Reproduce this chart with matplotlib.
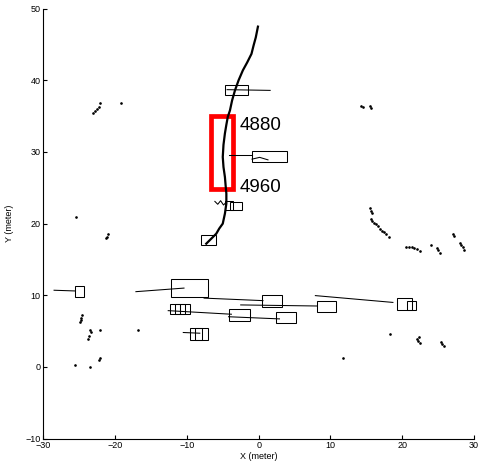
import matplotlib.pyplot as plt
from matplotlib.patches import Rectangle

plt.rcParams["font.family"] = ["Liberation Sans", "DejaVu Sans"]

# main (thick) trajectory of the tracked vehicle
traj_x = [-0.1, -0.2, -0.4, -0.7, -1.0, -1.6, -2.2, -2.8, -3.3, -3.7, -4.0, -4.3,
          -4.5, -4.7, -4.9, -5.0, -4.9, -4.7, -4.6, -4.5, -4.5, -4.7, -5.0, -5.5, -5.9, -6.6, -7.3]
traj_y = [47.5, 47.0, 46.0, 44.9, 43.7, 42.5, 41.4, 40.0, 38.6, 37.2, 35.8, 34.9,
          33.8, 32.6, 31.0, 29.3, 27.9, 26.5, 25.3, 24.2, 22.8, 21.4, 20.0, 19.3, 18.6, 17.9, 17.2]

# highlighted segment and frame labels
hl_x = [-6.6, -3.6]
hl_y = [24.9, 35.0]
frame_labels = ["4880", "4960"]
frame_label_y = [33.7, 25.1]

# other tracks (thin lines)
tracks = [
    ([-4.4, 1.6], [38.7, 38.6]),
    ([-4.1, -0.9], [29.6, 29.6]),
    ([-0.93, 0.14, 1.3], [29.0, 29.25, 28.9]),
    ([-6.1, -5.7, -5.3, -4.9, -4.5], [23.1, 22.7, 23.2, 22.6, 23.0]),
    ([-28.5, -25.6], [10.7, 10.6]),
    ([-17.1, -10.4], [10.5, 11.0]),
    ([-7.6, 0.6], [9.6, 9.25]),
    ([-12.6, -3.8], [7.85, 7.35]),
    ([-4.2, 2.9], [7.0, 6.7]),
    ([-2.5, 8.1], [8.65, 8.5]),
    ([7.9, 18.7], [9.95, 9.0]),
    ([-10.5, -8.2], [4.8, 4.7]),
]

# tracked object bounding boxes (x0, x1, y0, y1)
box_x0 = [-4.7, -0.9, -4.7, -4.0, -8.0, -25.6, -12.2, 0.5, -12.3, -11.7, -11.0,
          -4.2, 2.4, 8.1, 19.3, 20.6, -9.6, -8.8]
box_x1 = [-1.5, 3.9, -3.6, -2.3, -6.0, -24.3, -7.1, 3.2, -11.0, -10.3, -9.6,
          -1.25, 5.25, 10.8, 21.3, 21.9, -7.9, -7.1]
box_y0 = [38.0, 28.6, 21.9, 21.9, 17.0, 9.7, 9.8, 8.4, 7.4, 7.4, 7.4,
          6.4, 6.1, 7.7, 8.0, 8.0, 3.8, 3.8]
box_y1 = [39.4, 30.1, 23.2, 23.0, 18.4, 11.3, 12.2, 10.0, 8.8, 8.8, 8.8,
          8.05, 7.6, 9.2, 9.6, 9.2, 5.4, 5.4]

# static laser returns
dot_x = [-22.1, -22.2, -22.5, -22.8, -23.1, -19.2,
         -25.4, -21.0, -21.1, -21.3,
         14.3, 14.5, 15.5, 15.7,
         15.5, 15.7, 15.8,
         15.6, 15.8, 16.0, 16.3, 16.6, 16.9, 17.2, 17.5, 17.8, 18.2,
         20.5, 20.9, 21.3, 21.7, 22.1, 22.5,
         24.0, 24.8, 25.0, 25.3,
         27.1, 27.2, 28.1, 28.2, 28.4, 28.6,
         -24.6, -24.7, -24.8, -24.9,
         -23.5, -23.4, -23.6, -23.8, -22.1, -16.8,
         -22.1, -22.3, -25.6, -23.5,
         18.3, 22.3, 22.1, 22.2, 22.5, 11.8, 25.4, 25.6, 25.8]
dot_y = [36.9, 36.3, 36.0, 35.7, 35.4, 36.8,
         20.9, 18.5, 18.2, 18.0,
         36.4, 36.3, 36.4, 36.2,
         22.2, 21.8, 21.5,
         20.7, 20.4, 20.1, 19.9, 19.6, 19.3, 19.0, 18.8, 18.5, 18.2,
         16.8, 16.8, 16.7, 16.6, 16.5, 16.2,
         17.0, 16.6, 16.3, 15.9,
         18.6, 18.3, 17.3, 17.0, 16.7, 16.3,
         7.2, 6.8, 6.5, 6.2,
         5.2, 4.8, 4.3, 3.9, 5.2, 5.2,
         1.3, 1.0, 0.3, 0.05,
         4.6, 4.2, 3.9, 3.6, 3.4, 1.2, 3.5, 3.2, 2.9]

fig = plt.figure(figsize=(4.79, 4.69), dpi=100)
ax = fig.add_axes([0.0904, 0.065, 0.8992, 0.9164])

ax.plot(dot_x, dot_y, ".", color="black", markersize=1.8)

for tx, ty in tracks:
    ax.plot(tx, ty, color="black", linewidth=0.75)

for x0, x1, y0, y1 in zip(box_x0, box_x1, box_y0, box_y1):
    ax.add_patch(Rectangle((x0, y0), x1 - x0, y1 - y0, fill=False,
                           edgecolor="black", linewidth=0.75))

ax.plot(traj_x, traj_y, color="black", linewidth=1.6, solid_joinstyle="round")

ax.add_patch(Rectangle((hl_x[0], hl_y[0]), hl_x[1] - hl_x[0], hl_y[1] - hl_y[0],
                       fill=False, edgecolor="red", linewidth=3.4))
for lab, ly in zip(frame_labels, frame_label_y):
    ax.text(-2.6, ly, lab, fontsize=13.5, va="center", ha="left")

ax.set_xlim(-30, 30)
ax.set_ylim(-10, 50)
ax.set_xticks(range(-30, 31, 10))
ax.set_yticks(range(-10, 51, 10))
ax.spines["top"].set_visible(False)
ax.spines["right"].set_visible(False)
ax.tick_params(direction="in", length=3, labelsize=6.5, pad=2)
ax.set_xlabel("X (meter)", fontsize=6.5, labelpad=1)
ax.set_ylabel("Y (meter)", fontsize=6.5, labelpad=8)

fig.savefig("out.png", dpi=100)
